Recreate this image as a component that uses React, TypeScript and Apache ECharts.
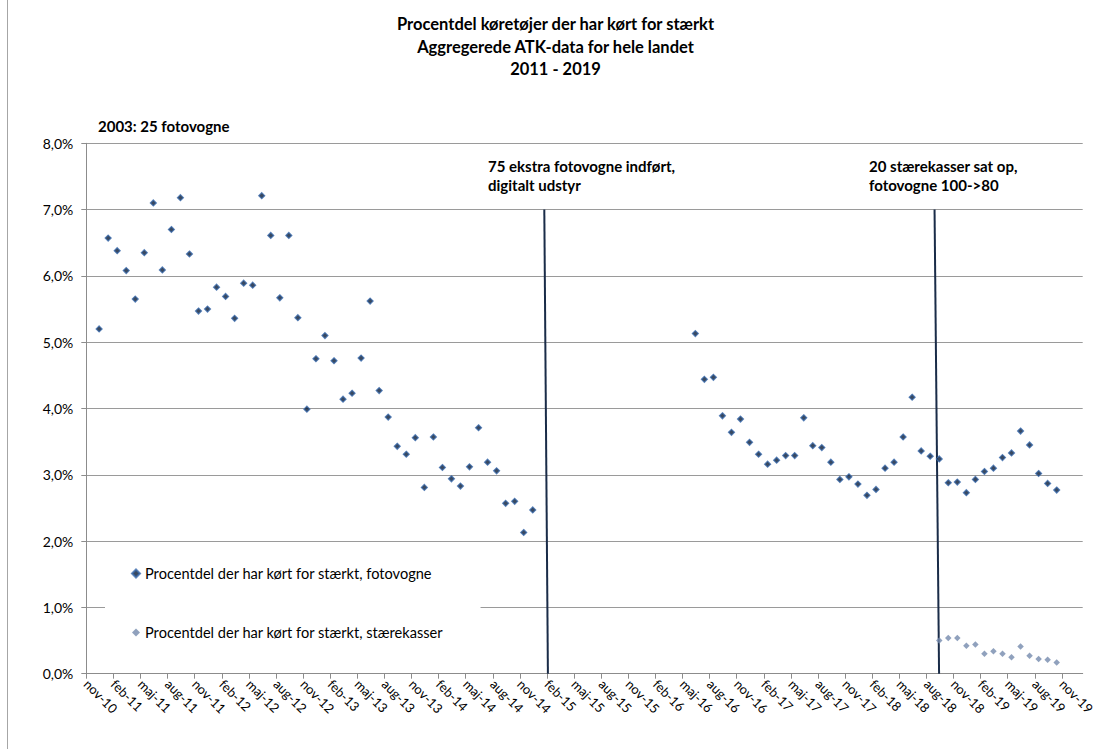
import React, { useEffect, useRef } from "react";
import * as echarts from "echarts";

const FONT = "Lato, 'Noto Sans', sans-serif";

const tickLabels = [
  "nov-10", "feb-11", "maj-11", "aug-11", "nov-11", "feb-12", "maj-12", "aug-12",
  "nov-12", "feb-13", "maj-13", "aug-13", "nov-13", "feb-14", "maj-14", "aug-14",
  "nov-14", "feb-15", "maj-15", "aug-15", "nov-15", "feb-16", "maj-16", "aug-16",
  "nov-16", "feb-17", "maj-17", "aug-17", "nov-17", "feb-18", "maj-18", "aug-18",
  "nov-18", "feb-19", "maj-19", "aug-19", "nov-19",
];

// month index: 0 = nov-10
const fotoPeriod1Start = 1; // dec-10
const fotoPeriod1 = [
  5.2, 6.57, 6.38, 6.08, 5.65, 6.35, 7.1, 6.09, 6.7, 7.18, 6.33, 5.47, 5.5, 5.83,
  5.69, 5.36, 5.89, 5.86, 7.21, 6.61, 5.67, 6.61, 5.37, 3.99, 4.75, 5.1, 4.72, 4.14,
  4.23, 4.76, 5.62, 4.27, 3.87, 3.43, 3.31, 3.56, 2.81, 3.57, 3.11, 2.94, 2.83, 3.12,
  3.71, 3.19, 3.06, 2.57, 2.6, 2.13, 2.47,
];
const fotoPeriod2Start = 67; // jun-16
const fotoPeriod2 = [
  5.13, 4.44, 4.47, 3.89, 3.64, 3.84, 3.49, 3.31, 3.16, 3.22, 3.29, 3.29, 3.86, 3.44,
  3.41, 3.19, 2.93, 2.97, 2.86, 2.69, 2.78, 3.1, 3.19, 3.57, 4.17, 3.36, 3.28, 3.24,
  2.88, 2.89, 2.73, 2.93, 3.05, 3.1, 3.26, 3.33, 3.66, 3.45, 3.02, 2.87, 2.77,
];
const staereStart = 94; // sep-18
const staereValues = [
  0.5, 0.54, 0.54, 0.42, 0.44, 0.3, 0.34, 0.3, 0.25, 0.41, 0.27, 0.22, 0.21, 0.17,
];

// event marker lines (month index at top / bottom, value at top / bottom)
const eventTopMonth = [50.7, 93.9];
const eventBottomMonth = [51.1, 94.4];
const eventTopValue = 7;

const seriesFoto = "Procentdel der har kørt for stærkt, fotovogne";
const seriesStaere = "Procentdel der har kørt for stærkt, stærekasser";

const MONTH_OFFSET = 0.42;

function toPoints(start: number, vals: number[]) {
  return vals.map((v, i) => [start + i + MONTH_OFFSET, v]);
}

export default function App() {
  const ref = useRef<HTMLDivElement>(null);
  useEffect(() => {
    if (!ref.current) return;
    const chart = echarts.init(ref.current, null, { renderer: "svg" });
    const tickValues = tickLabels.map((_, i) => i * 3);
    const eventSeries = eventTopMonth.map((t, i) => ({
      type: "line",
      name: "event" + i,
      data: [
        [t, eventTopValue],
        [eventBottomMonth[i], 0],
      ],
      symbol: "none",
      silent: true,
      lineStyle: { color: "#1a2c48", width: 2 },
      z: 1,
    }));
    chart.setOption({
      animation: false,
      backgroundColor: "#ffffff",
      textStyle: { fontFamily: FONT },
      title: {
        text: "Procentdel køretøjer der har kørt for stærkt\nAggregerede ATK-data for hele landet\n2011 - 2019",
        left: "center",
        top: 8,
        textStyle: {
          fontFamily: FONT,
          fontSize: 16.5,
          fontWeight: "bold",
          color: "#000",
          lineHeight: 22.5,
        },
      },
      grid: { left: 86.3, right: 28.3, top: 143.3, bottom: 75.3, containLabel: false },
      legend: {
        data: [seriesFoto, seriesStaere],
        orient: "vertical",
        left: 105,
        top: 552,
        padding: [14, 37, 12, 26],
        itemGap: 44,
        itemWidth: 8,
        itemHeight: 8,
        icon: "diamond",
        backgroundColor: "#ffffff",
        textStyle: { fontFamily: FONT, fontSize: 14.6, color: "#000" },
      },
      xAxis: {
        type: "value",
        min: 0,
        max: 110.3,
        splitLine: { show: false },
        axisLine: { show: true, lineStyle: { color: "#8c8c8c", width: 1 } },
        axisTick: {
          show: true,
          length: 5,
          customValues: tickValues,
          lineStyle: { color: "#8c8c8c" },
        },
        axisLabel: {
          customValues: tickValues,
          rotate: -45,
          margin: 8,
          fontFamily: FONT,
          fontSize: 13,
          color: "#000",
          formatter: (v: number) => tickLabels[Math.round(v / 3)] ?? "",
        },
      },
      yAxis: {
        type: "value",
        min: 0,
        max: 8,
        interval: 1,
        splitLine: { show: true, lineStyle: { color: "#9a9a9a", width: 1 } },
        axisLine: { show: true, lineStyle: { color: "#8c8c8c", width: 1 } },
        axisTick: { show: true, length: 5, lineStyle: { color: "#8c8c8c" } },
        axisLabel: {
          margin: 13,
          fontFamily: FONT,
          fontSize: 14,
          color: "#000",
          formatter: (v: number) => v.toFixed(1).replace(".", ",") + "%",
        },
      },
      series: [
        ...eventSeries,
        {
          type: "scatter",
          name: seriesFoto,
          data: [...toPoints(fotoPeriod1Start, fotoPeriod1), ...toPoints(fotoPeriod2Start, fotoPeriod2)],
          symbol: "diamond",
          symbolSize: 6,
          itemStyle: { color: "#081c38", borderColor: "#3a6aad", borderWidth: 1.2 },
          z: 3,
        },
        {
          type: "scatter",
          name: seriesStaere,
          data: toPoints(staereStart, staereValues),
          symbol: "diamond",
          symbolSize: 6.5,
          itemStyle: { color: "#7489ad" },
          z: 2,
        },
      ],
      graphic: [
        {
          type: "line",
          shape: { x1: 7.5, y1: 0, x2: 7.5, y2: 749 },
          style: { stroke: "#a6a6a6", lineWidth: 1 },
          silent: true,
        },
        {
          type: "text",
          left: 98,
          top: 118,
          style: { text: "2003: 25 fotovogne", font: `bold 15px ${FONT}`, fill: "#000" },
        },
        {
          type: "text",
          left: 488,
          top: 156,
          style: {
            text: "75 ekstra fotovogne indført,\ndigitalt udstyr",
            font: `bold 15px ${FONT}`,
            lineHeight: 19.5,
            fill: "#000",
          },
        },
        {
          type: "text",
          left: 869,
          top: 156,
          style: {
            text: "20 stærekasser sat op,\nfotovogne 100->80",
            font: `bold 15px ${FONT}`,
            lineHeight: 19.5,
            fill: "#000",
          },
        },
      ],
    });
    return () => chart.dispose();
  }, []);
  return (
    <div
      ref={ref}
      style={{ position: "fixed", left: 0, top: 0, width: 1111, height: 749, background: "#fff" }}
    />
  );
}
